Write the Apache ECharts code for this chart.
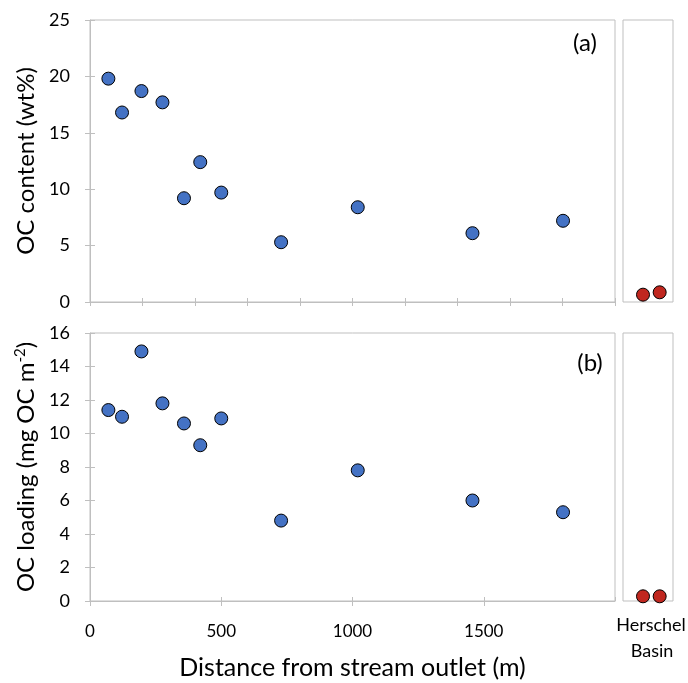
<!DOCTYPE html>
<html>
<head>
<meta charset="utf-8">
<script src="https://cdn.jsdelivr.net/npm/echarts@6/dist/echarts.min.js"></script>
<style>
  html, body { margin: 0; padding: 0; background: #fff; }
  #chart { width: 688px; height: 683px; }
</style>
</head>
<body>
<div id="chart"></div>
<script>
// Sampling distance along the transect (m)
const distance = [70, 122, 196, 276, 358, 420, 500, 728, 1020, 1457, 1802];
// Organic carbon content (wt%)
const ocContent = [19.8, 16.8, 18.7, 17.7, 9.2, 12.4, 9.7, 5.3, 8.4, 6.1, 7.2];
// Organic carbon loading (mg OC m^-2)
const ocLoading = [11.4, 11.0, 14.9, 11.8, 10.6, 9.3, 10.9, 4.8, 7.8, 6.0, 5.3];
// Herschel Basin reference samples
const herschelSample = [1, 2];
const herschelContent = [0.65, 0.86];
const herschelLoading = [0.28, 0.28];

const FONT = 'Lato';
const FRAME = '#bfbfbf';
const BLUE = '#4472C4';
const RED = '#C0271F';

const pair = (xs, ys) => xs.map((x, i) => [x, ys[i]]);

const grids = [
  { left: 90, top: 20, width: 525, height: 282 },   // (a) main
  { left: 623, top: 20, width: 50, height: 282 },   // (a) Herschel
  { left: 90, top: 333, width: 525, height: 268 },  // (b) main
  { left: 623, top: 333, width: 50, height: 268 }   // (b) Herschel
].map(g => Object.assign({ show: true, borderColor: FRAME, borderWidth: 1, containLabel: false }, g));

const hiddenX = (gi) => ({
  type: 'value', gridIndex: gi, min: -0.2, max: 2.8,
  axisLine: { show: false }, axisTick: { show: false },
  axisLabel: { show: false }, splitLine: { show: false }
});
// Companion axis that draws the inner half of the crossing tick marks
const xInnerTicks = (gi, interval) => ({
  type: 'value', gridIndex: gi, min: 0, max: 2000, interval: interval, position: 'bottom',
  axisLine: { show: false },
  axisTick: { show: true, inside: true, length: 4, lineStyle: { color: FRAME } },
  axisLabel: { show: false }, splitLine: { show: false }
});

const xAxis = [
  {
    type: 'value', gridIndex: 0, min: 0, max: 2000, interval: 200,
    axisLine: { lineStyle: { color: FRAME } },
    axisTick: { length: 4, lineStyle: { color: FRAME } },
    axisLabel: { show: false }, splitLine: { show: false }
  },
  hiddenX(1),
  {
    type: 'value', gridIndex: 2, min: 0, max: 2000, interval: 500,
    axisLine: { lineStyle: { color: FRAME } },
    axisTick: { length: 5, lineStyle: { color: FRAME } },
    axisLabel: {
      showMaxLabel: false, fontFamily: FONT, fontSize: 17, color: '#000', margin: 22,
      formatter: v => String(v)
    },
    splitLine: { show: false },
    name: 'Distance from stream outlet (m)', nameLocation: 'middle', nameGap: 54,
    nameTextStyle: { fontFamily: FONT, fontSize: 25, color: '#000' }
  },
  hiddenX(3),
  xInnerTicks(0, 200),
  xInnerTicks(2, 500)
];

const yMain = (gi, max, interval, name, rich) => ({
  type: 'value', gridIndex: gi, min: 0, max: max, interval: interval,
  axisLine: { show: true, lineStyle: { color: FRAME } },
  axisTick: { length: 5, lineStyle: { color: FRAME } },
  axisLabel: { fontFamily: FONT, fontSize: 18, color: '#000', margin: 20 },
  splitLine: { show: false },
  name: name, nameLocation: 'middle', nameGap: 46,
  nameTextStyle: { fontFamily: FONT, fontSize: 24, color: '#000', rich: rich || {} }
});
const yInnerTicks = (gi, max, interval) => ({
  type: 'value', gridIndex: gi, min: 0, max: max, interval: interval, position: 'left',
  axisLine: { show: false },
  axisTick: { show: true, inside: true, length: 5, lineStyle: { color: FRAME } },
  axisLabel: { show: false }, splitLine: { show: false }
});
const yHidden = (gi, max) => ({
  type: 'value', gridIndex: gi, min: 0, max: max,
  axisLine: { show: false }, axisTick: { show: false },
  axisLabel: { show: false }, splitLine: { show: false }
});

const yAxis = [
  yMain(0, 25, 5, 'OC content (wt%)'),
  yHidden(1, 25),
  yMain(2, 16, 2, 'OC loading (mg OC m{sup|-2})', {
    sup: { fontFamily: FONT, fontSize: 15, color: '#000', verticalAlign: 'top', padding: [0, 0, 12, 0] }
  }),
  yHidden(3, 16),
  yInnerTicks(0, 25, 5),
  yInnerTicks(2, 16, 2)
];

const dots = (xi, yi, data, color) => ({
  type: 'scatter', xAxisIndex: xi, yAxisIndex: yi, data: data,
  symbol: 'circle', symbolSize: 13,
  itemStyle: { color: color, borderColor: '#000', borderWidth: 1, opacity: 1 },
  emphasis: { disabled: true }, z: 5
});

const option = {
  animation: false,
  backgroundColor: '#fff',
  grid: grids,
  xAxis: xAxis,
  yAxis: yAxis,
  series: [
    dots(0, 0, pair(distance, ocContent), BLUE),
    dots(1, 1, pair(herschelSample, herschelContent), RED),
    dots(2, 2, pair(distance, ocLoading), BLUE),
    dots(3, 3, pair(herschelSample, herschelLoading), RED)
  ],
  graphic: [
    { type: 'text', x: 585, y: 43, style: { text: '(a)', font: '24px ' + FONT, fill: '#000', align: 'center', verticalAlign: 'middle' } },
    { type: 'text', x: 590, y: 363, style: { text: '(b)', font: '24px ' + FONT, fill: '#000', align: 'center', verticalAlign: 'middle' } },
    { type: 'text', x: 651, y: 625, style: { text: 'Herschel', font: '18px ' + FONT, fill: '#000', align: 'center', verticalAlign: 'middle' } },
    { type: 'text', x: 652, y: 651, style: { text: 'Basin', font: '18px ' + FONT, fill: '#000', align: 'center', verticalAlign: 'middle' } }
  ]
};

echarts.init(document.getElementById('chart'), null, { renderer: 'canvas' }).setOption(option);
</script>
</body>
</html>
